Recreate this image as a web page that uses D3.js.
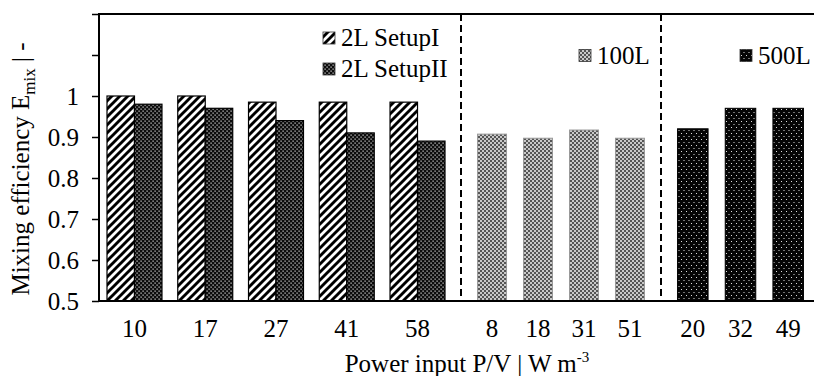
<!DOCTYPE html>
<html lang="en">
<head>
    <meta charset="UTF-8">
    <title>Mixing efficiency</title>
    <style>
        body { margin: 0; background: #fff; }
        text { font-family: "Liberation Serif", "Times New Roman", serif; fill: #000; }
        .tick-label { font-size: 25px; }
        .legend text { font-size: 25px; }
        .axis-title { font-size: 25px; }
    </style>
    <script src="https://d3js.org/d3.v7.min.js"></script>
</head>
<body>
<script>
    // 2L vessel, two setups
    const labels2L = ["10", "17", "27", "41", "58"];
    const series2L = ["2L SetupI", "2L SetupII"];
    const setupI = [1.0, 1.0, 0.985, 0.985, 0.985];
    const setupII = [0.98, 0.97, 0.94, 0.91, 0.89];

    // 100L vessel
    const labels100L = ["8", "18", "31", "51"];
    const values100L = [0.907, 0.897, 0.917, 0.897];

    // 500L vessel
    const labels500L = ["20", "32", "49"];
    const values500L = [0.92, 0.97, 0.97];

    const yTicks = [0.5, 0.6, 0.7, 0.8, 0.9, 1.0, 1.1, 1.2];
    const yTickLabels = ["0.5", "0.6", "0.7", "0.8", "0.9", "1", "", ""];

    const width = 814, height = 376;
    const plotLeft = 99, plotTop = 14, plotBottom = 301;
    const split1 = 461, split2 = 661, plotRight = 820;

    const svg = d3.select("body").append("svg")
        .attr("width", width)
        .attr("height", height);

    // ---- patterns ----
    const defs = svg.append("defs");

    const hatch = defs.append("pattern").attr("id", "p-setupI")
        .attr("patternUnits", "userSpaceOnUse").attr("width", 8).attr("height", 8);
    hatch.append("rect").attr("width", 8).attr("height", 8).attr("fill", "#fff");
    hatch.append("path").attr("d", "M-2,2 L2,-2 M0,8 L8,0 M6,10 L10,6")
        .attr("stroke", "#000").attr("stroke-width", 2.9);

    const checker = defs.append("pattern").attr("id", "p-setupII")
        .attr("patternUnits", "userSpaceOnUse").attr("width", 4).attr("height", 4);
    checker.append("rect").attr("width", 4).attr("height", 4).attr("fill", "#0c0c0c");
    checker.append("rect").attr("x", 0.4).attr("y", 0.6).attr("width", 1.4).attr("height", 1).attr("fill", "#e8e8e8");
    checker.append("rect").attr("x", 2.4).attr("y", 2.6).attr("width", 1.4).attr("height", 1).attr("fill", "#e8e8e8");

    const diamond = defs.append("pattern").attr("id", "p-100L")
        .attr("patternUnits", "userSpaceOnUse").attr("width", 4).attr("height", 4);
    diamond.append("rect").attr("width", 4).attr("height", 4).attr("fill", "#555");
    diamond.append("circle").attr("cx", 1).attr("cy", 1).attr("r", 1).attr("fill", "#f0f0f0");
    diamond.append("circle").attr("cx", 3).attr("cy", 3).attr("r", 1).attr("fill", "#f0f0f0");

    const dots = defs.append("pattern").attr("id", "p-500L")
        .attr("patternUnits", "userSpaceOnUse").attr("width", 5).attr("height", 6);
    dots.append("rect").attr("width", 5).attr("height", 6).attr("fill", "#050505");
    dots.append("rect").attr("x", 1).attr("y", 1).attr("width", 1).attr("height", 1).attr("fill", "#ddd");
    dots.append("rect").attr("x", 3.5).attr("y", 4).attr("width", 1).attr("height", 1).attr("fill", "#ddd");

    // ---- scales ----
    const y = d3.scaleLinear().domain([0.5, 1.2]).range([plotBottom, plotTop]);

    const x2L = d3.scaleBand().domain(labels2L).range([plotLeft, split1 - 8])
        .paddingInner(0.223).paddingOuter(0.113);
    const xSeries = d3.scaleBand().domain(series2L).range([0, x2L.bandwidth()]);
    const x100L = d3.scaleBand().domain(labels100L).range([split1, split2])
        .paddingInner(0.37).paddingOuter(0.36);
    const x500L = d3.scaleBand().domain(labels500L).range([split2, plotRight])
        .paddingInner(0.36).paddingOuter(0.347);

    // ---- bars ----
    const rows2L = labels2L.flatMap((l, i) => [
        { label: l, series: "2L SetupI", value: setupI[i], fill: "url(#p-setupI)", stroke: "#000" },
        { label: l, series: "2L SetupII", value: setupII[i], fill: "url(#p-setupII)", stroke: "#000" }
    ]);

    svg.append("g").selectAll("rect").data(rows2L).enter().append("rect")
        .attr("x", d => x2L(d.label) + xSeries(d.series))
        .attr("y", d => y(d.value))
        .attr("width", xSeries.bandwidth())
        .attr("height", d => y(0.5) - y(d.value))
        .attr("fill", d => d.fill)
        .attr("stroke", d => d.stroke)
        .attr("stroke-width", 1.2);

    svg.append("g").selectAll("rect").data(labels100L).enter().append("rect")
        .attr("x", d => x100L(d))
        .attr("y", (d, i) => y(values100L[i]))
        .attr("width", x100L.bandwidth())
        .attr("height", (d, i) => y(0.5) - y(values100L[i]))
        .attr("fill", "url(#p-100L)")
        .attr("stroke", "#999")
        .attr("stroke-width", 1);

    svg.append("g").selectAll("rect").data(labels500L).enter().append("rect")
        .attr("x", d => x500L(d))
        .attr("y", (d, i) => y(values500L[i]))
        .attr("width", x500L.bandwidth())
        .attr("height", (d, i) => y(0.5) - y(values500L[i]))
        .attr("fill", "url(#p-500L)")
        .attr("stroke", "#000")
        .attr("stroke-width", 1);

    // ---- separators ----
    svg.append("g").selectAll("line").data([split1, split2]).enter().append("line")
        .attr("x1", d => d).attr("x2", d => d)
        .attr("y1", plotTop).attr("y2", plotBottom - 3)
        .attr("stroke", "#000").attr("stroke-width", 2)
        .attr("stroke-dasharray", "7,4");

    // ---- axes ----
    const yAxis = d3.axisLeft(y).tickValues(yTicks).tickSize(7)
        .tickFormat((d, i) => yTickLabels[i]);
    const gy = svg.append("g").attr("transform", `translate(${plotLeft},0)`).call(yAxis);
    gy.select(".domain").remove();
    gy.selectAll(".tick line").attr("stroke", "#000").attr("stroke-width", 1.5);
    gy.selectAll(".tick text").attr("class", "tick-label").attr("x", -20).attr("dy", "0.35em")
        .attr("font-family", null).attr("font-size", null);

    svg.append("line").attr("x1", plotLeft).attr("x2", plotLeft)
        .attr("y1", plotTop).attr("y2", plotBottom)
        .attr("stroke", "#000").attr("stroke-width", 2);
    svg.append("line").attr("x1", plotLeft - 1).attr("x2", width)
        .attr("y1", plotBottom).attr("y2", plotBottom)
        .attr("stroke", "#000").attr("stroke-width", 2);
    svg.append("line").attr("x1", plotLeft - 1).attr("x2", width)
        .attr("y1", plotTop).attr("y2", plotTop)
        .attr("stroke", "#000").attr("stroke-width", 2);

    // category labels
    const catLabels = [
        ...labels2L.map(l => ({ text: l, cx: x2L(l) + x2L.bandwidth() / 2 })),
        ...labels100L.map(l => ({ text: l, cx: x100L(l) + x100L.bandwidth() / 2 })),
        ...labels500L.map(l => ({ text: l, cx: x500L(l) + x500L.bandwidth() / 2 }))
    ];
    svg.append("g").selectAll("text").data(catLabels).enter().append("text")
        .attr("class", "tick-label")
        .attr("x", d => d.cx).attr("y", 337)
        .attr("text-anchor", "middle")
        .text(d => d.text);

    // ---- legend ----
    const legendItems = [
        { text: "2L SetupI", fill: "url(#p-setupI)", x: 323, y: 46 },
        { text: "2L SetupII", fill: "url(#p-setupII)", x: 323, y: 77 },
        { text: "100L", fill: "url(#p-100L)", x: 579, y: 63.5 },
        { text: "500L", fill: "url(#p-500L)", x: 740, y: 63.5 }
    ];
    const legend = svg.append("g").attr("class", "legend");
    const li = legend.selectAll("g").data(legendItems).enter().append("g");
    li.append("rect")
        .attr("x", d => d.x).attr("y", d => d.y - 14)
        .attr("width", 12).attr("height", 12)
        .attr("fill", d => d.fill).attr("stroke", "#333").attr("stroke-width", 0.8);
    li.append("text")
        .attr("x", d => d.x + 18).attr("y", d => d.y)
        .text(d => d.text);

    // ---- axis titles ----
    const xTitle = svg.append("text").attr("class", "axis-title")
        .attr("x", 467).attr("y", 372).attr("text-anchor", "middle");
    xTitle.append("tspan").text("Power input P/V | W m");
    xTitle.append("tspan").attr("dy", -10).attr("font-size", 15).text("-3");

    const yTitle = svg.append("text").attr("class", "axis-title")
        .attr("transform", "translate(29,169) rotate(-90)")
        .attr("text-anchor", "middle");
    yTitle.append("tspan").text("Mixing efficiency E");
    yTitle.append("tspan").attr("dy", 6).attr("font-size", 17).text("mix");
    yTitle.append("tspan").attr("dy", -6).text(" | -");
</script>
</body>
</html>
